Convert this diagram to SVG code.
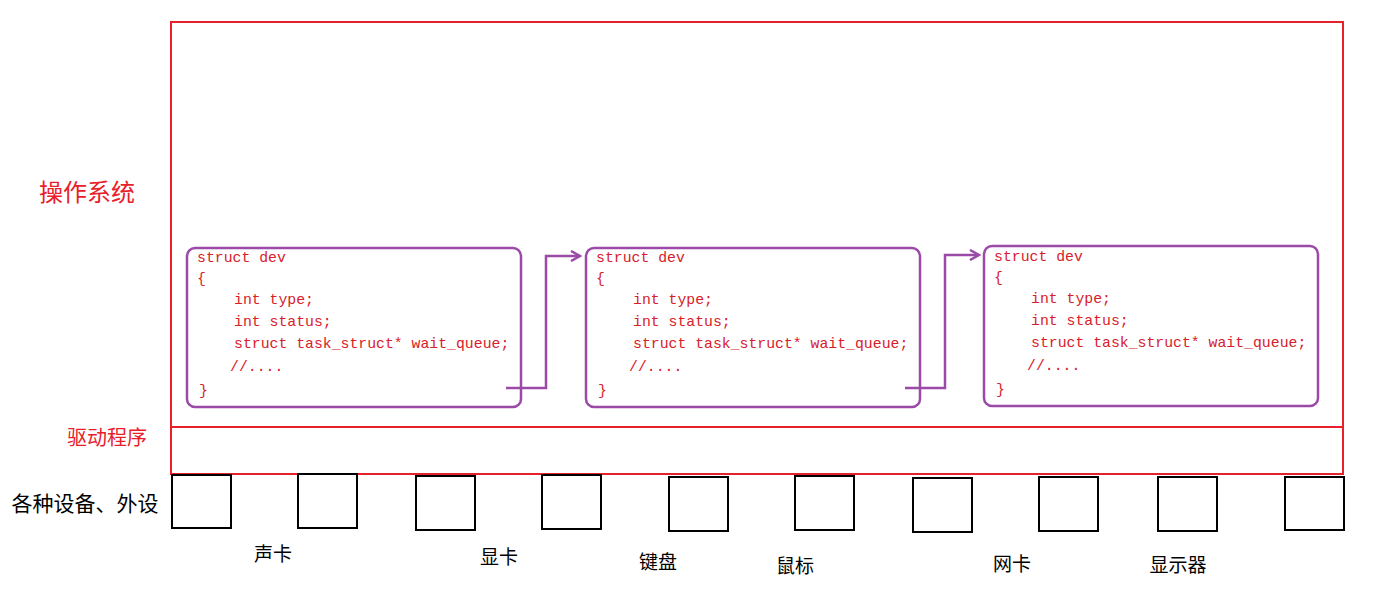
<svg xmlns="http://www.w3.org/2000/svg" width="1384" height="607" viewBox="0 0 1384 607">
<style>
.red{fill:none;stroke:#e8202a;stroke-width:2}
.dev{fill:#fff;stroke:#9b4aa8;stroke-width:2.5}
.code{font-family:"Liberation Mono","Noto Sans CJK SC",monospace;font-size:14.8px;fill:#d8202a}
.sq{fill:#fff;stroke:#000;stroke-width:2}
.lbl{font-family:"Noto Sans CJK SC",sans-serif;font-size:19px;fill:#000;text-anchor:middle}
.conn{fill:none;stroke:#9b4aa8;stroke-width:2.5}
</style>
<defs><marker id="ar" markerWidth="12" markerHeight="12" refX="10" refY="6" orient="auto" markerUnits="userSpaceOnUse"><path d="M1,1 L10,6 L1,11" fill="none" stroke="#9b4aa8" stroke-width="2.5"/></marker></defs>
<rect width="1384" height="607" fill="#fff"/>
<g id="os"><rect class="red" x="171" y="22" width="1172" height="405"/><text x="87" y="201" font-family="Noto Sans CJK SC,sans-serif" font-size="24" fill="#e8202a" text-anchor="middle">操作系统</text></g>
<g id="driver"><rect class="red" x="171" y="427" width="1172" height="47"/><text x="107" y="445" font-family="Noto Sans CJK SC,sans-serif" font-size="20" fill="#e8202a" text-anchor="middle">驱动程序</text></g>
<text x="85" y="511" font-family="Noto Sans CJK SC,sans-serif" font-size="21" fill="#000" text-anchor="middle">各种设备、外设</text>
<g id="dev1"><rect class="dev" x="187" y="248" width="334" height="159" rx="8"/>
<text class="code"><tspan x="197" y="262">struct dev</tspan><tspan x="197" y="283">{</tspan><tspan x="234" y="304">int type;</tspan><tspan x="234" y="326">int status;</tspan><tspan x="234" y="348">struct task_struct* wait_queue;</tspan><tspan x="230" y="371">//....</tspan><tspan x="199" y="395">}</tspan></text></g>
<g id="dev2"><rect class="dev" x="586" y="248" width="334" height="159" rx="8"/>
<text class="code"><tspan x="596" y="262">struct dev</tspan><tspan x="596" y="283">{</tspan><tspan x="633" y="304">int type;</tspan><tspan x="633" y="326">int status;</tspan><tspan x="633" y="348">struct task_struct* wait_queue;</tspan><tspan x="629" y="371">//....</tspan><tspan x="598" y="395">}</tspan></text></g>
<g id="dev3"><rect class="dev" x="984" y="246" width="334" height="160" rx="8"/>
<text class="code"><tspan x="994" y="261">struct dev</tspan><tspan x="994" y="282">{</tspan><tspan x="1031" y="303">int type;</tspan><tspan x="1031" y="325">int status;</tspan><tspan x="1031" y="347">struct task_struct* wait_queue;</tspan><tspan x="1027" y="370">//....</tspan><tspan x="996" y="394">}</tspan></text></g>
<g id="connectors"><path class="conn" d="M506,388 H546 V256 H580" marker-end="url(#ar)"/><path class="conn" d="M905,388 H945 V255 H979" marker-end="url(#ar)"/></g>
<g id="devices">
<rect class="sq" x="172" y="475" width="59" height="53"/>
<rect class="sq" x="298" y="474" width="59" height="54"/>
<rect class="sq" x="416" y="476" width="59" height="54"/>
<rect class="sq" x="542" y="475" width="59" height="54"/>
<rect class="sq" x="669" y="477" width="59" height="54"/>
<rect class="sq" x="795" y="476" width="59" height="54"/>
<rect class="sq" x="913" y="478" width="59" height="54"/>
<rect class="sq" x="1039" y="477" width="59" height="54"/>
<rect class="sq" x="1158" y="477" width="59" height="54"/>
<rect class="sq" x="1285" y="477" width="59" height="53"/>
<text class="lbl" x="273" y="561">声卡</text>
<text class="lbl" x="499" y="564">显卡</text>
<text class="lbl" x="658" y="569">键盘</text>
<text class="lbl" x="795" y="573">鼠标</text>
<text class="lbl" x="1012" y="571">网卡</text>
<text class="lbl" x="1178" y="572">显示器</text>
</g>
</svg>
